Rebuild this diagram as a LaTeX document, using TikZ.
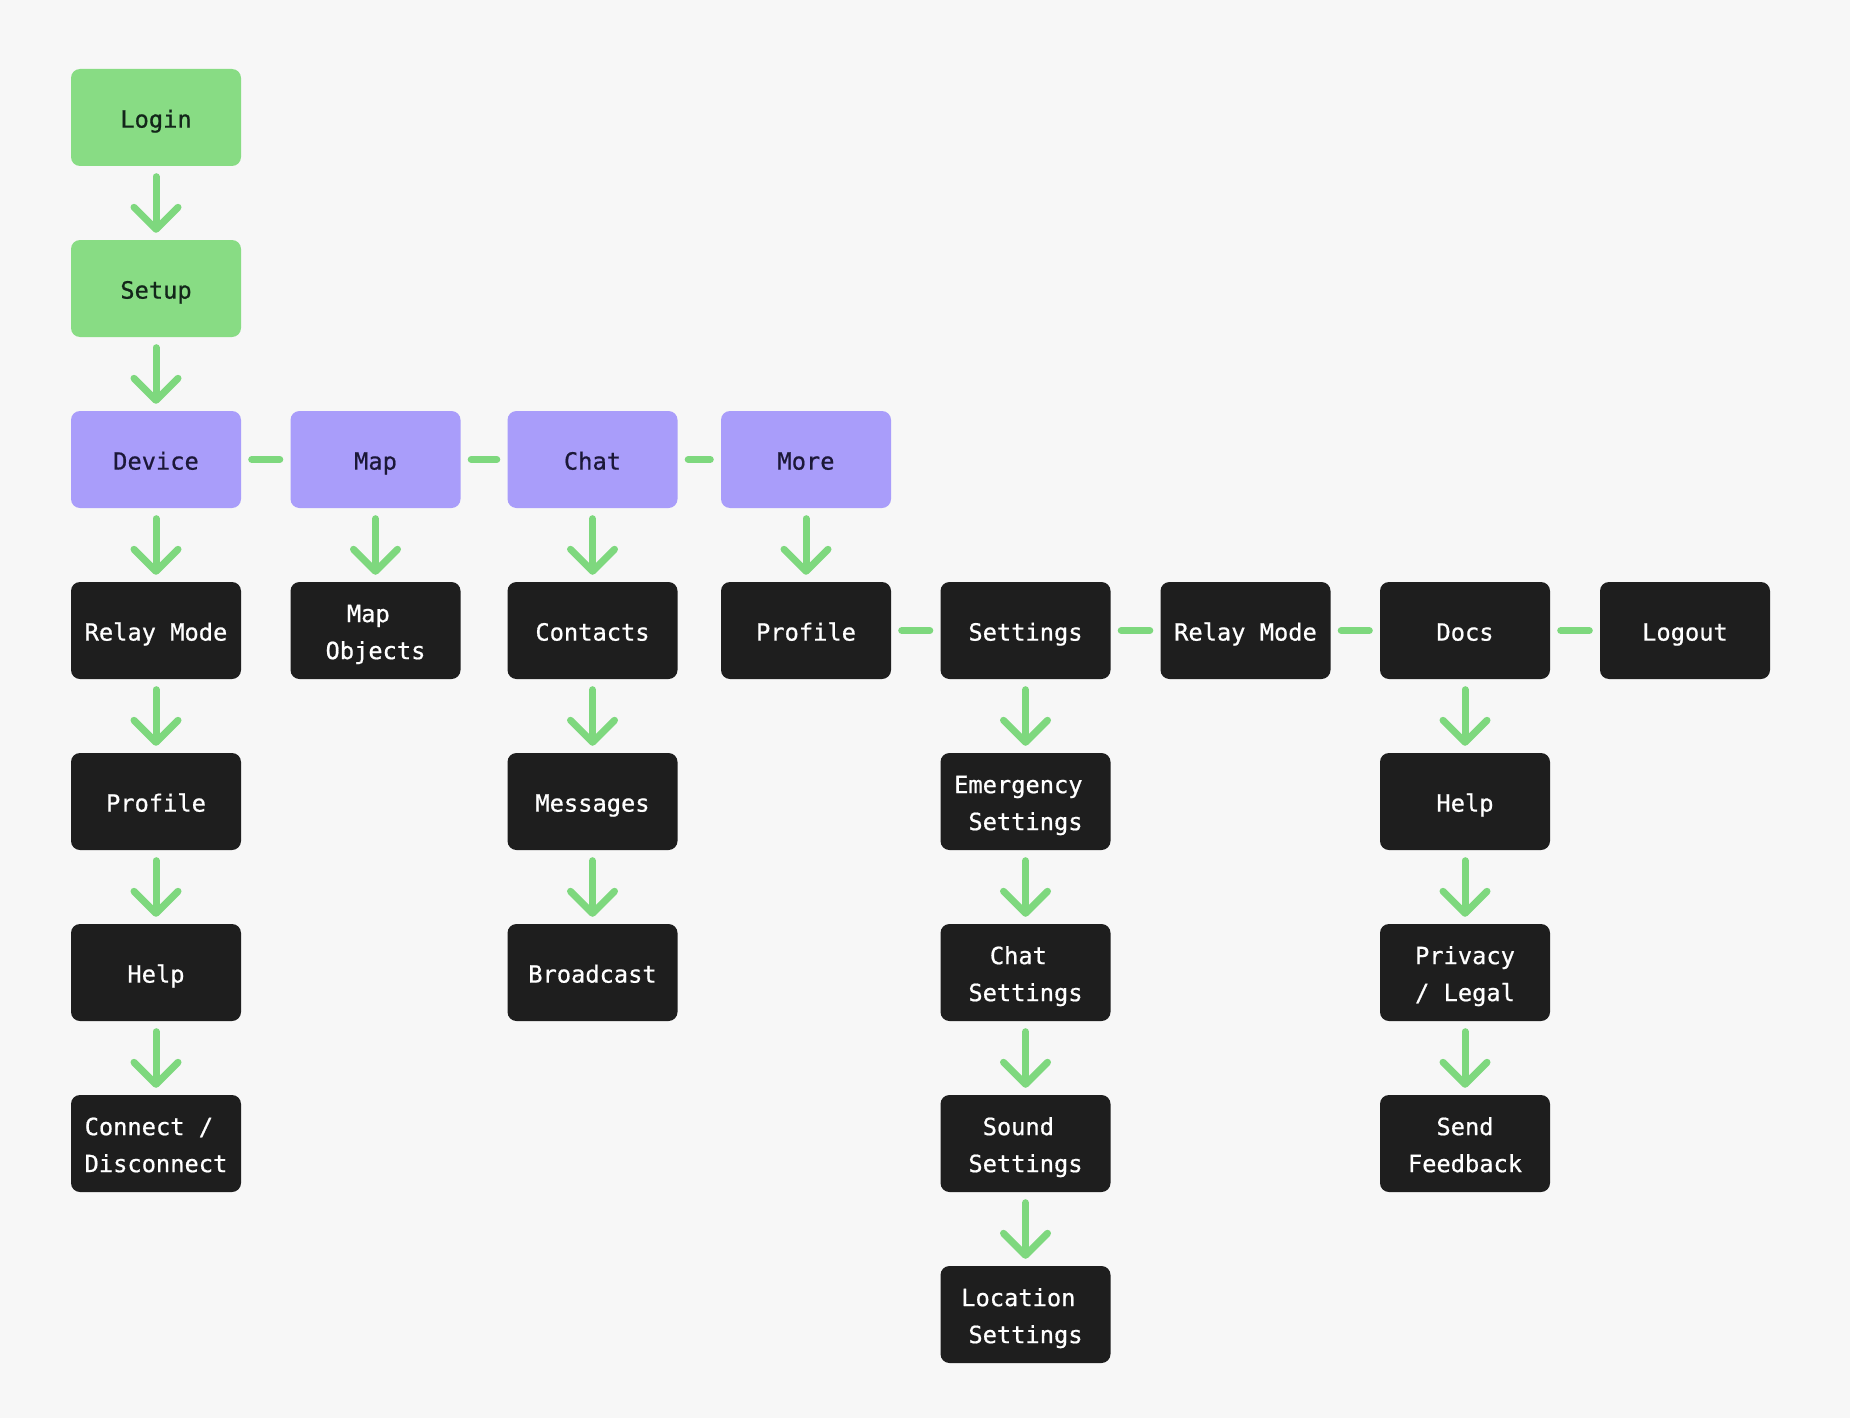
\documentclass[tikz,border=0pt]{standalone}
\usepackage{fontspec}
\newfontfamily\boxfont[AutoFakeBold=0.7]{DejaVu Sans Mono}
\usetikzlibrary{arrows.meta}
\definecolor{bg}{HTML}{F7F7F7}
\definecolor{gfill}{HTML}{88DC84}
\definecolor{pfill}{HTML}{A99DFA}
\definecolor{dfill}{HTML}{1E1E1E}
\definecolor{gline}{HTML}{7ED87E}
\definecolor{gtext}{HTML}{13261A}
\definecolor{ptext}{HTML}{1C1838}
\newcommand{\ls}{\rule[-8.4pt]{0pt}{37pt}}
\tikzset{
  box/.style={rectangle, rounded corners=9pt, minimum width=170pt, minimum height=97pt,
    inner sep=0pt, align=center, font=\boxfont\bfseries\fontsize{23.7}{37}\selectfont},
  gbox/.style={box, fill=gfill, text=gtext},
  pbox/.style={box, fill=pfill, text=ptext},
  dbox/.style={box, fill=dfill, text=white},
  flow/.style={draw=gline, line width=7pt, line cap=round, shorten <=10.5pt, shorten >=7pt,
    -{Straight Barb[length=22pt, width=44pt, line width=7pt, round]}},
  link/.style={draw=gline, line width=7pt, line cap=round, shorten <=10.5pt, shorten >=10.5pt}
}
\newcommand{\trsp}{\phantom{x}}
\begin{document}
\begin{tikzpicture}[x=1pt,y=-1pt]
\path[fill=bg] (0,0) rectangle (1850,1418);
% row 0-2
\node[gbox] (login) at (156,117.5) {\ls Login};
\node[gbox] (setup) at (156,288.5) {\ls Setup};
\node[pbox] (device) at (156,459.5) {\ls Device};
\node[pbox] (map) at (375.5,459.5) {\ls Map};
\node[pbox] (chat) at (592.5,459.5) {\ls Chat};
\node[pbox] (more) at (806,459.5) {\ls More};
% row 3
\node[dbox] (relay1) at (156,630.5) {\ls Relay Mode};
\node[dbox] (mapobj) at (375.5,630.5) {\ls Map\trsp\\\ls Objects};
\node[dbox] (contacts) at (592.5,630.5) {\ls Contacts};
\node[dbox] (profile2) at (806,630.5) {\ls Profile};
\node[dbox] (settings) at (1025.5,630.5) {\ls Settings};
\node[dbox] (relay2) at (1245.5,630.5) {\ls Relay Mode};
\node[dbox] (docs) at (1465,630.5) {\ls Docs};
\node[dbox] (logout) at (1685,630.5) {\ls Logout};
% row 4
\node[dbox] (profile1) at (156,801.5) {\ls Profile};
\node[dbox] (messages) at (592.5,801.5) {\ls Messages};
\node[dbox] (emerg) at (1025.5,801.5) {\ls Emergency\trsp\\\ls Settings};
\node[dbox] (help2) at (1465,801.5) {\ls Help};
% row 5
\node[dbox] (help1) at (156,972.5) {\ls Help};
\node[dbox] (broadcast) at (592.5,972.5) {\ls Broadcast};
\node[dbox] (chatset) at (1025.5,972.5) {\ls Chat\trsp\\\ls Settings};
\node[dbox] (privacy) at (1465,972.5) {\ls Privacy\\\ls / Legal};
% row 6
\node[dbox] (connect) at (156,1143.5) {\ls Connect /\trsp\\\ls Disconnect};
\node[dbox] (sound) at (1025.5,1143.5) {\ls Sound\trsp\\\ls Settings};
\node[dbox] (feedback) at (1465,1143.5) {\ls Send\\\ls Feedback};
% row 7
\node[dbox] (location) at (1025.5,1314.5) {\ls Location\trsp\\\ls Settings};
% arrows
\draw[flow] (login) -- (setup);
\draw[flow] (setup) -- (device);
\draw[flow] (device) -- (relay1);
\draw[flow] (map) -- (mapobj);
\draw[flow] (chat) -- (contacts);
\draw[flow] (more) -- (profile2);
\draw[flow] (relay1) -- (profile1);
\draw[flow] (profile1) -- (help1);
\draw[flow] (help1) -- (connect);
\draw[flow] (contacts) -- (messages);
\draw[flow] (messages) -- (broadcast);
\draw[flow] (settings) -- (emerg);
\draw[flow] (emerg) -- (chatset);
\draw[flow] (chatset) -- (sound);
\draw[flow] (sound) -- (location);
\draw[flow] (docs) -- (help2);
\draw[flow] (help2) -- (privacy);
\draw[flow] (privacy) -- (feedback);
% links
\draw[link] (device) -- (map);
\draw[link] (map) -- (chat);
\draw[link] (chat) -- (more);
\draw[link] (profile2) -- (settings);
\draw[link] (settings) -- (relay2);
\draw[link] (relay2) -- (docs);
\draw[link] (docs) -- (logout);
\end{tikzpicture}
\end{document}
